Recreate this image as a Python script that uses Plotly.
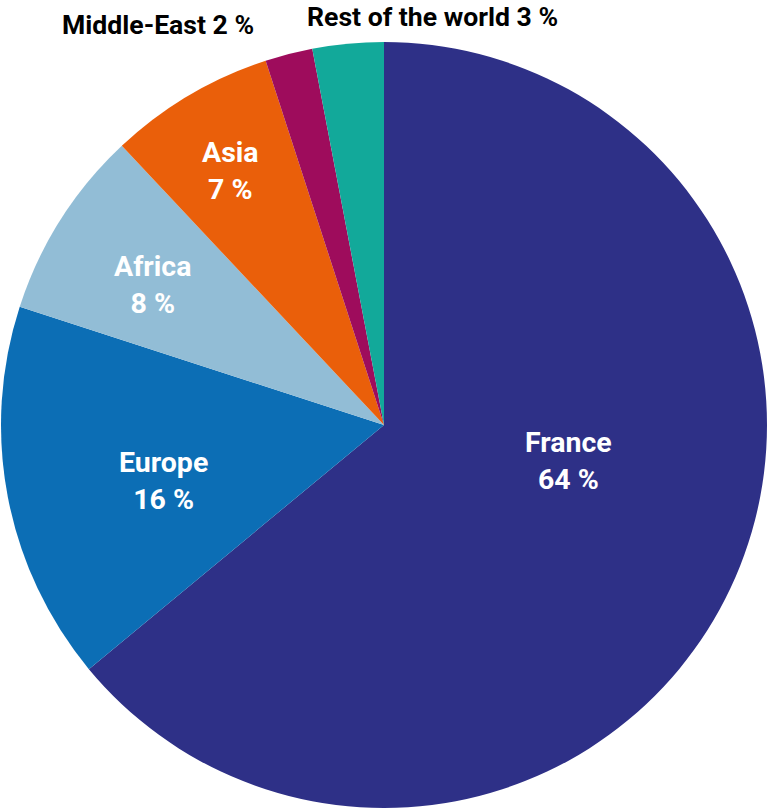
import plotly.graph_objects as go

regions = ["France", "Europe", "Africa", "Asia", "Middle-East", "Rest of the world"]
shares = [64, 16, 8, 7, 2, 3]
colors = ["#2E3087", "#0C6EB5", "#92BDD6", "#EA5F0A", "#9E0C5C", "#12A99A"]

W, H = 768, 808

# label anchors in pixels (centre of the text block); the two thin slices
# are labelled above the pie in black, the rest inside in white
label_px = {
    "France": (568, 461),
    "Europe": (163, 481),
    "Africa": (152, 285),
    "Asia": (230, 171),
    "Middle-East": (158, 24),
    "Rest of the world": (432, 16),
}
outside = {"Middle-East", "Rest of the world"}

fig = go.Figure(
    go.Pie(
        labels=regions,
        values=shares,
        textinfo="none",
        marker=dict(colors=colors, line=dict(width=0)),
        sort=False,
        direction="clockwise",
        rotation=0,
        domain=dict(x=[0, 1], y=[0, 766 / H]),
        hoverinfo="label+percent",
    )
)

for r, v in zip(regions, shares):
    px, py = label_px[r]
    if r in outside:
        txt, col, size = f"{r} {v} %", "black", 26.6
    else:
        txt, col, size = f"{r}<br>{v} %", "white", 28.5
    fig.add_annotation(
        x=px / W, y=1 - py / H, xref="paper", yref="paper",
        text=txt, showarrow=False,
        font=dict(family="Roboto", size=size, color=col, weight="bold"),
        xanchor="center", yanchor="middle",
    )

fig.update_layout(
    width=W,
    height=H,
    margin=dict(l=0, r=0, t=0, b=0),
    showlegend=False,
    paper_bgcolor="white",
    plot_bgcolor="white",
)

# drop the browser's default body margin so the figure sits at 0,0
fig.write_html(
    "out.html",
    config={"displayModeBar": False},
    post_script="document.body.style.margin='0px';",
)
